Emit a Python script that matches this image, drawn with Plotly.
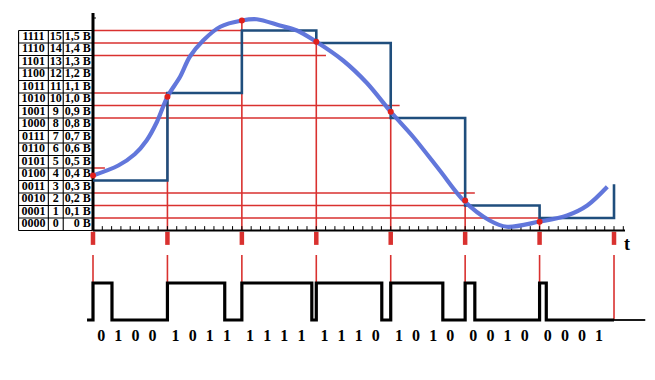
import plotly.graph_objects as go

# ---------------- data ----------------
sample_t = [0, 1, 2, 3, 4, 5, 6, 7]
sample_v = [0.44, 1.07, 1.68, 1.51, 0.95, 0.24, 0.07]
stair_v = [0.4, 1.1, 1.6, 1.5, 0.9, 0.2, 0.1, 0.1]
stair_end_v = 0.37
codes = ["0100", "1011", "1111", "1110", "1010", "0010", "0001"]

curve_t = [0.0, 0.34, 0.56, 0.72, 0.86, 1.0, 1.17, 1.30, 1.48, 1.71, 2.0, 2.2,
           2.51, 2.74, 3.0, 3.36, 3.68, 4.0, 4.3, 4.66, 4.98, 5.33, 5.56, 5.99,
           6.37, 6.64, 6.91]
curve_v = [0.44, 0.52, 0.61, 0.72, 0.87, 1.07, 1.23, 1.39, 1.52, 1.63, 1.68, 1.69,
           1.64, 1.60, 1.51, 1.36, 1.18, 0.95, 0.75, 0.48, 0.24, 0.08, 0.03, 0.07,
           0.12, 0.20, 0.35]

guide_v = [1.6, 1.5, 1.4, 1.1, 1.0, 0.9, 0.5, 0.3, 0.2, 0.1]
guide_end_t = [2.0, 3.0, 3.13, 1.0, 4.12, 4.0, 0.16, 5.13, 5.0, 6.0]

table_codes = ["0000", "0001", "0010", "0011", "0100", "0101", "0110", "0111",
               "1000", "1001", "1010", "1011", "1100", "1101", "1110", "1111"]
table_dec = ["0", "1", "2", "3", "4", "5", "6", "7", "8", "9", "10", "11",
             "12", "13", "14", "15"]
table_volts = ["0 В", "0,1 В", "0,2 В", "0,3 В", "0,4 В", "0,5 В", "0,6 В", "0,7 В",
               "0,8 В", "0,9 В", "1,0 В", "1,1 В", "1,2 В", "1,3 В", "1,4 В", "1,5 В"]

pulse_start = [0, 1, 2, 3, 4, 5, 6]
pulse_end = [0.255, 1.77, 2.94, 3.88, 4.7, 5.13, 6.09]
signal_start_t = -0.08
signal_end_t = 7.0
baseline_end_t = 7.42

# ---------------- layout constants (page-pixel mapping) ----------------
W, H = 655, 380
OFF = 8                       # default body margin of the html page
FW, FH = W - OFF, H - OFF     # figure size
X0_PX, PX_PER_T = 93, 74.43   # page px of t = 0
Y0_PX, PX_PER_V = 230.5, 125  # page px of v = 0
SIG0_PX, PX_PER_LEVEL = 320, 37

x_range = [-(X0_PX - OFF) / PX_PER_T, (FW - (X0_PX - OFF)) / PX_PER_T]
y_range = [((Y0_PX - OFF) - FH) / PX_PER_V, (Y0_PX - OFF) / PX_PER_V]
y2_range = [((SIG0_PX - OFF) - FH) / PX_PER_LEVEL, (SIG0_PX - OFF) / PX_PER_LEVEL]

RED = "#d9312f"
STAIR = "#1f4e7d"
CURVE = "#5a70da"
SERIF = "Liberation Serif, Times New Roman, serif"

fig = go.Figure()


def seg_trace(xs, ys, color, width, yaxis="y"):
    fig.add_trace(go.Scatter(x=xs, y=ys, mode="lines", yaxis=yaxis,
                             line=dict(color=color, width=width),
                             hoverinfo="skip", showlegend=False))


# ---- table grid ----
col_x = [-1.0, -0.6, -0.4, 0.0]
nrows = len(table_codes)
gx, gy = [], []
for k in range(nrows + 1):
    gx += [col_x[0], col_x[-1], None]
    gy += [k * 0.1, k * 0.1, None]
for c in col_x[:-1]:
    gx += [c, c, None]
    gy += [0, nrows * 0.1, None]
seg_trace(gx, gy, "black", 1.1)

row_y = [(k + 0.5) * 0.1 for k in range(nrows)]
tfont = dict(family=SERIF, size=12, color="black", weight="bold")
fig.add_trace(go.Scatter(x=[-0.80] * nrows, y=row_y, mode="text", text=table_codes,
                         textfont=tfont, textposition="middle center",
                         hoverinfo="skip", showlegend=False))
fig.add_trace(go.Scatter(x=[-0.50] * nrows, y=row_y, mode="text", text=table_dec,
                         textfont=tfont, textposition="middle center",
                         hoverinfo="skip", showlegend=False))
fig.add_trace(go.Scatter(x=[-0.03] * nrows, y=row_y, mode="text", text=table_volts,
                         textfont=tfont, textposition="middle left",
                         hoverinfo="skip", showlegend=False))

# ---- red horizontal guide lines ----
hx, hy = [], []
for v, te in zip(guide_v, guide_end_t):
    hx += [0, te, None]
    hy += [v, v, None]
seg_trace(hx, hy, RED, 1.5)

# ---- red verticals from samples to axis ----
vx, vy = [], []
for t, v in zip(sample_t, sample_v):
    vx += [t, t, None]
    vy += [v, 0, None]
seg_trace(vx, vy, RED, 1.6)

# ---- thick red marks below axis ----
mx, my = [], []
for t in sample_t:
    mx += [t, t, None]
    my += [-0.01, -0.115, None]
seg_trace(mx, my, RED, 4.5)

# ---- thin red lines down into the digital signal ----
lx, ly = [], []
for t in sample_t:
    lx += [t, t, None]
    ly += [(SIG0_PX - 255) / PX_PER_LEVEL, 0, None]
seg_trace(lx, ly, RED, 1.6, yaxis="y2")

# ---- axes drawn as lines ----
seg_trace([0, (625 - X0_PX) / PX_PER_T], [0, 0], "black", 2.2)
tx, ty = [], []
k = 1
while k * 0.125 <= 7.13:
    tx += [k * 0.125, k * 0.125, None]
    ty += [0, 0.035, None]
    k += 1
seg_trace(tx, ty, "black", 1)
seg_trace([0, 0], [0, (Y0_PX - 13) / PX_PER_V], "black", 3)
seg_trace([0, 0.04], [1.70, 1.70], "black", 1)

# ---- quantised staircase ----
fig.add_trace(go.Scatter(x=sample_t + [sample_t[-1]], y=stair_v + [stair_end_v],
                         mode="lines", line=dict(color=STAIR, width=2.6, shape="hv"),
                         hoverinfo="skip", showlegend=False))

# ---- analog curve ----
fig.add_trace(go.Scatter(x=curve_t, y=curve_v, mode="lines",
                         line=dict(color=CURVE, width=4.2, shape="spline", smoothing=0.9),
                         opacity=0.95, hoverinfo="skip", showlegend=False))

# ---- sample dots ----
fig.add_trace(go.Scatter(x=sample_t[:len(sample_v)], y=sample_v, mode="markers",
                         marker=dict(color="#e0201c", size=6),
                         hoverinfo="skip", showlegend=False))

# ---- digital signal ----
sx, sy = [signal_start_t], [0]
for a, b in zip(pulse_start, pulse_end):
    sx += [a, a, b, b]
    sy += [0, 1, 1, 0]
sx += [signal_end_t]
sy += [0]
fig.add_trace(go.Scatter(x=sx, y=sy, mode="lines", yaxis="y2",
                         line=dict(color="black", width=3.2),
                         hoverinfo="skip", showlegend=False))
seg_trace([signal_end_t, baseline_end_t], [0, 0], "black", 1.8, yaxis="y2")

# ---- bit labels ----
bit_offsets = [0.11, 0.34, 0.57, 0.80]
bx, by, bt = [], [], []
for g, code in enumerate(codes):
    for j, ch in enumerate(code):
        bx.append(g + bit_offsets[j])
        by.append((SIG0_PX - 337) / PX_PER_LEVEL)
        bt.append(ch)
fig.add_trace(go.Scatter(x=bx, y=by, mode="text", text=bt, yaxis="y2",
                         textfont=dict(family=SERIF, size=16, color="black", weight="bold"),
                         textposition="middle center",
                         hoverinfo="skip", showlegend=False))

# ---- "t" label ----
fig.add_annotation(x=(627 - X0_PX) / PX_PER_T, y=(Y0_PX - 244) / PX_PER_V,
                   xref="x", yref="y", text="<b>t</b>", showarrow=False,
                   font=dict(family=SERIF, size=18, color="black"))

fig.update_layout(
    width=FW, height=FH,
    margin=dict(l=0, r=0, t=0, b=0),
    paper_bgcolor="white", plot_bgcolor="white",
    showlegend=False,
    xaxis=dict(range=x_range, visible=False, fixedrange=True),
    yaxis=dict(range=y_range, visible=False, fixedrange=True),
    yaxis2=dict(range=y2_range, visible=False, overlaying="y", fixedrange=True),
)

fig.write_html("out.html")
